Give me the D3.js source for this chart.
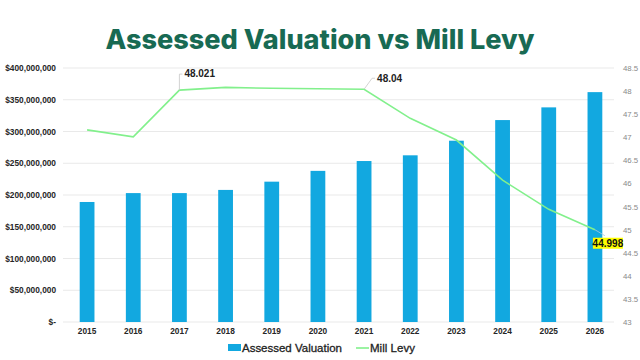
<!DOCTYPE html>
<head>
    <script src="https://d3js.org/d3.v7.min.js"></script>
    <title>Assessed Valuation vs Mill Levy</title>
    <style>
        body { margin: 0; background: #ffffff; }
        svg { display: block; font-family: "Liberation Sans", Arial, sans-serif; }
    </style>
</head>
<body>
<svg width="640" height="360" class="chart"></svg>
<script>
    // data
    const years = ["2015", "2016", "2017", "2018", "2019", "2020", "2021", "2022", "2023", "2024", "2025", "2026"];
    const assessed = [189000000, 203000000, 203000000, 208000000, 221000000, 238000000, 253500000, 262500000, 285500000, 318000000, 338000000, 362000000];
    const millLevy = [47.16, 47.01, 48.021, 48.08, 48.06, 48.05, 48.04, 47.41, 46.94, 46.07, 45.44, 44.998];
    const leftTicks = [0, 50000000, 100000000, 150000000, 200000000, 250000000, 300000000, 350000000, 400000000];
    const rightTicks = [43, 43.5, 44, 44.5, 45, 45.5, 46, 46.5, 47, 47.5, 48, 48.5];

    const svg = d3.select(".chart");
    const plotLeft = 64, plotRight = 618, plotTop = 68, plotBottom = 322;

    const x = d3.scaleBand()
        .domain(years)
        .range([plotLeft, plotRight])
        .paddingInner(0.68)
        .paddingOuter(0.34);
    const yL = d3.scaleLinear().domain([0, 400000000]).range([plotBottom, plotTop]);
    const yR = d3.scaleLinear().domain([43, 48.5]).range([plotBottom, plotTop]);

    // title
    svg.append("text")
        .attr("x", 320)
        .attr("y", 49)
        .attr("text-anchor", "middle")
        .attr("textLength", 429)
        .attr("lengthAdjust", "spacingAndGlyphs")
        .style("font-family", "Inter, sans-serif")
        .style("font-size", "27px")
        .style("font-weight", "800")
        .style("fill", "#186a53")
        .text("Assessed Valuation vs Mill Levy");

    // gridlines
    svg.append("g")
        .selectAll("line")
        .data(leftTicks)
        .enter()
        .append("line")
        .attr("x1", 63)
        .attr("x2", 614)
        .attr("y1", d => yL(d))
        .attr("y2", d => yL(d))
        .attr("stroke", "#e9e9e9")
        .attr("stroke-width", 1);

    // left axis
    const fmt = d3.format(",");
    const gL = svg.append("g")
        .attr("transform", "translate(56,0)")
        .call(d3.axisLeft(yL).tickValues(leftTicks).tickSize(0).tickPadding(0)
            .tickFormat(d => d === 0 ? "$-" : "$" + fmt(d)));
    gL.select(".domain").remove();
    gL.selectAll("text")
        .style("font-size", "8.3px")
        .style("font-weight", "bold")
        .style("fill", "#262626");

    // right axis
    const gR = svg.append("g")
        .attr("transform", "translate(623,0)")
        .call(d3.axisRight(yR).tickValues(rightTicks).tickSize(0).tickPadding(0)
            .tickFormat(d => d3.format("")(d)));
    gR.select(".domain").remove();
    gR.selectAll("text")
        .style("font-size", "7.8px")
        .style("fill", "#8a8a8a");

    // x axis
    const gX = svg.append("g")
        .attr("transform", "translate(0," + plotBottom + ")")
        .call(d3.axisBottom(x).tickSize(0).tickPadding(6));
    gX.select(".domain").remove();
    gX.selectAll("text")
        .style("font-size", "8.3px")
        .style("font-weight", "bold")
        .style("fill", "#262626");

    // bars
    svg.append("g")
        .selectAll("rect")
        .data(years)
        .enter()
        .append("rect")
        .attr("x", d => x(d))
        .attr("width", x.bandwidth())
        .attr("y", (d, i) => yL(assessed[i]))
        .attr("height", (d, i) => plotBottom - yL(assessed[i]))
        .attr("fill", "#12a8e0");

    // mill levy line
    const cx = d => x(d) + x.bandwidth() / 2;
    const line = d3.line()
        .x(d => cx(d))
        .y((d, i) => yR(millLevy[i]));
    svg.append("path")
        .datum(years)
        .attr("d", line)
        .attr("fill", "none")
        .attr("stroke", "#82f08c")
        .attr("stroke-width", 1.6);

    // data labels
    const p17 = [cx("2017"), yR(millLevy[2])];
    svg.append("path")
        .attr("d", "M" + p17[0] + "," + p17[1] + "V" + (p17[1] - 16) + "h3")
        .attr("fill", "none")
        .attr("stroke", "#c8c8c8")
        .attr("stroke-width", 0.8);
    svg.append("text")
        .attr("x", p17[0] + 5)
        .attr("y", p17[1] - 13)
        .style("font-size", "10px")
        .style("font-weight", "bold")
        .style("fill", "#222")
        .text("48.021");

    const p21 = [cx("2021"), yR(millLevy[6])];
    svg.append("path")
        .attr("d", "M" + p21[0] + "," + p21[1] + "L" + (p21[0] + 8) + "," + (p21[1] - 11) + "h3")
        .attr("fill", "none")
        .attr("stroke", "#c8c8c8")
        .attr("stroke-width", 0.8);
    svg.append("text")
        .attr("x", p21[0] + 13)
        .attr("y", p21[1] - 7)
        .style("font-size", "10px")
        .style("font-weight", "bold")
        .style("fill", "#222")
        .text("48.04");

    const p26 = [cx("2026"), yR(millLevy[11])];
    svg.append("line")
        .attr("x1", p26[0]).attr("y1", p26[1])
        .attr("x2", p26[0] + 10).attr("y2", p26[1] + 6)
        .attr("stroke", "#a9c9e0")
        .attr("stroke-width", 0.8);
    svg.append("rect")
        .attr("x", p26[0] - 2)
        .attr("y", p26[1] + 8)
        .attr("width", 30)
        .attr("height", 11)
        .attr("fill", "#ffff00");
    svg.append("text")
        .attr("x", p26[0] + 13)
        .attr("y", p26[1] + 17.5)
        .attr("text-anchor", "middle")
        .style("font-size", "10px")
        .style("font-weight", "bold")
        .style("fill", "#111")
        .text("44.998");

    // legend
    const lg = svg.append("g").attr("transform", "translate(0,348)");
    lg.append("rect").attr("x", 228).attr("y", -4).attr("width", 13).attr("height", 7).attr("fill", "#12a8e0");
    lg.append("text").attr("x", 242).attr("y", 4.2)
        .attr("textLength", 100)
        .style("font-size", "11.5px").style("fill", "#222")
        .style("stroke", "#222").style("stroke-width", 0.3)
        .text("Assessed Valuation");
    lg.append("line").attr("x1", 356).attr("x2", 369).attr("y1", 0).attr("y2", 0)
        .attr("stroke", "#82f08c").attr("stroke-width", 1.6);
    lg.append("text").attr("x", 370).attr("y", 4.2)
        .attr("textLength", 45)
        .style("font-size", "11.5px").style("fill", "#222")
        .style("stroke", "#222").style("stroke-width", 0.3)
        .text("Mill Levy");
</script>
</body>
